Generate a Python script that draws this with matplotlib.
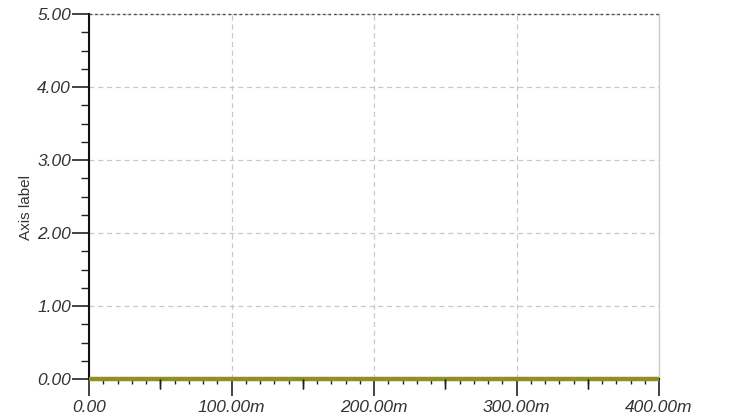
import matplotlib
matplotlib.use("Agg")
import matplotlib.pyplot as plt
from matplotlib.ticker import MultipleLocator, FuncFormatter

# time axis (seconds) and the two constant traces
time_s = [0.0, 0.05, 0.10, 0.15, 0.20, 0.25, 0.30, 0.35, 0.40]
upper_trace = [5.0, 5.0, 5.0, 5.0, 5.0, 5.0, 5.0, 5.0, 5.0]
lower_trace = [0.0, 0.0, 0.0, 0.0, 0.0, 0.0, 0.0, 0.0, 0.0]

x_major = [0.0, 0.1, 0.2, 0.3, 0.4]
y_major = [0.0, 1.0, 2.0, 3.0, 4.0, 5.0]

plt.rcParams['font.family'] = ['Liberation Sans', 'DejaVu Sans']

fig = plt.figure(figsize=(7.32, 4.20), dpi=100)
ax = fig.add_axes([89 / 732, 1 - 379 / 420, (659 - 89) / 732, (379 - 14) / 420])

ax.plot(time_s, lower_trace, color='#8f8f22', lw=3.2, solid_capstyle='butt', zorder=3, clip_on=False)
ax.plot(time_s, upper_trace, color='#3f5a45', lw=1.0, ls=(0, (2, 2)), zorder=3, clip_on=False)

ax.set_xlim(0, 0.4)
ax.set_ylim(0, 5)

ax.set_xticks(x_major)
ax.set_yticks(y_major)
ax.xaxis.set_minor_locator(MultipleLocator(0.01))
ax.yaxis.set_minor_locator(MultipleLocator(0.25))

def fmt_x(v, pos):
    return "0.00" if abs(v) < 1e-12 else f"{v * 1000:.2f}m"

ax.xaxis.set_major_formatter(FuncFormatter(fmt_x))
ax.yaxis.set_major_formatter(FuncFormatter(lambda v, p: f"{v:.2f}"))

for lbl in ax.get_xticklabels() + ax.get_yticklabels():
    lbl.set_fontstyle('italic')
    lbl.set_fontsize(12.5)
    lbl.set_color('#333333')

ax.tick_params(axis='x', which='major', length=12, width=1.2, direction='out', pad=3, colors='#222222', labelcolor='#333333')
ax.tick_params(axis='x', which='minor', length=3.5, width=1.0, direction='out', colors='#222222')
ax.tick_params(axis='y', which='major', length=12, width=1.2, direction='out', pad=1, colors='#222222', labelcolor='#333333')
ax.tick_params(axis='y', which='minor', length=6, width=1.0, direction='out', colors='#222222')

# slightly longer ticks at the half-way points of the time axis
for xm in [0.05, 0.15, 0.25, 0.35]:
    ax.plot([xm, xm], [0, 0], transform=ax.get_xaxis_transform(), marker=3, markersize=7,
            markeredgewidth=1.0, color='#222222', clip_on=False, zorder=4)

ax.grid(True, which='major', color='#c8c8c8', ls=(0, (4, 3)), lw=0.9)

for side in ['left', 'bottom']:
    ax.spines[side].set_color('#111111')
    ax.spines[side].set_linewidth(1.5)
ax.spines['right'].set_color('#cccccc')
ax.spines['right'].set_linewidth(1.0)
ax.spines['top'].set_visible(False)

ax.set_ylabel('Axis label', fontsize=11, color='#333333')
ax.yaxis.set_label_coords(-0.098, 0.47)

fig.savefig('out.png', dpi=100, facecolor='white')
